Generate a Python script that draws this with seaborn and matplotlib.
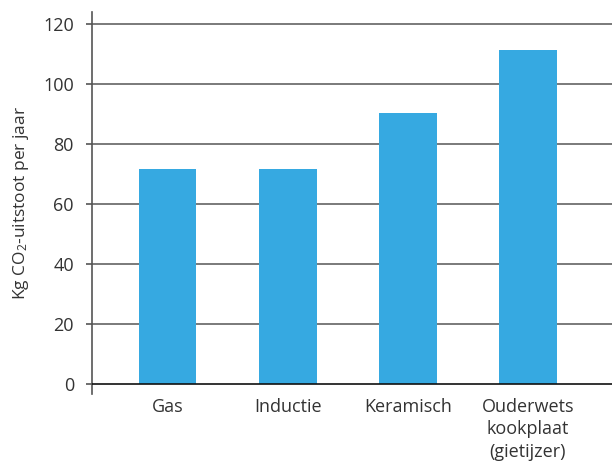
import matplotlib
matplotlib.use("Agg")
import matplotlib.pyplot as plt
import seaborn as sns
import pandas as pd

categories = ["Gas", "Inductie", "Keramisch", "Ouderwets\nkookplaat\n(gietijzer)"]
values = [71.7, 71.7, 90.3, 111.3]
yticks = [0, 20, 40, 60, 80, 100, 120]

sns.set_theme(style="white")
plt.rcParams["font.family"] = ["Open Sans", "DejaVu Sans"]
plt.rcParams["mathtext.default"] = "regular"

df = pd.DataFrame({"cat": categories, "val": values})

fig = plt.figure(figsize=(6.12, 4.62), dpi=100)
ax = fig.add_axes([92/612, 1 - 394/462, 1 - 92/612, (394 - 12)/462])

for t in yticks[1:]:
    ax.axhline(t, color="#7a7a7a", lw=1.4, zorder=0)

sns.barplot(data=df, x="cat", y="val", color="#36A9E1", width=0.48,
            saturation=1, linewidth=0, edgecolor="none", ax=ax, zorder=2)
ax.axhline(0, color="#111111", lw=1.2, zorder=3)

ax.set_ylim(-3.3, 124)
ax.set_xlim(-0.63, 3.7)
ax.set_yticks(yticks)
ax.set_yticklabels([str(t) for t in yticks])
ax.tick_params(axis="y", left=True, length=4, width=1.2, color="#555555",
               pad=9, labelsize=13, labelcolor="#333333")
ax.tick_params(axis="x", bottom=False, length=0, pad=3, labelsize=13,
               labelcolor="#333333")
for lbl in ax.get_xticklabels():
    lbl.set_linespacing(1.3)
for s in ["top", "right", "bottom"]:
    ax.spines[s].set_visible(False)
ax.spines["left"].set_color("#555555")
ax.spines["left"].set_linewidth(1.2)
ax.set_xlabel("")
ax.set_ylabel("Kg CO$_2$-uitstoot per jaar", fontsize=12.5, color="#333333",
              labelpad=9)
ax.grid(False)

fig.savefig("out.png", dpi=100)
